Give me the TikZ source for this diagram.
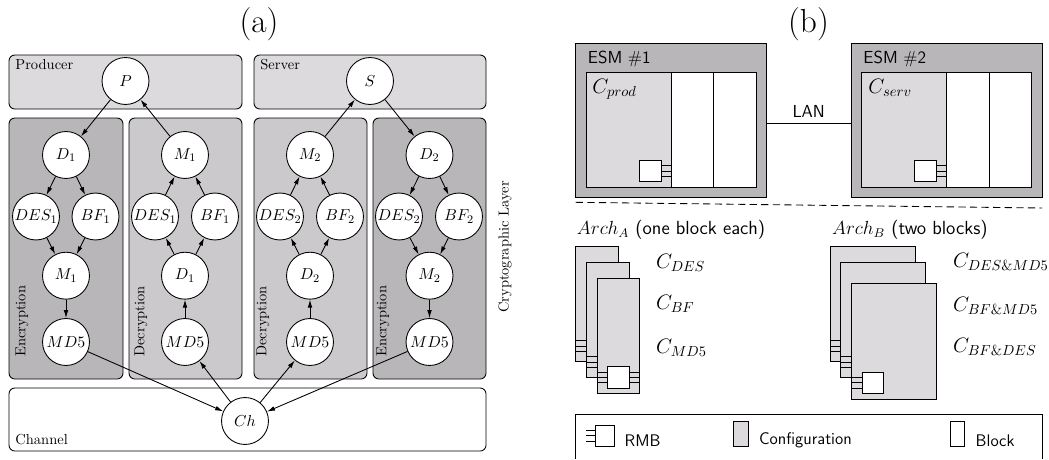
\documentclass[tikz,border=0pt]{standalone}
\usepackage{tikz}
\usetikzlibrary{arrows.meta}
\tikzset{
  state/.style={circle,draw,fill=white,minimum size=32.4pt,inner sep=0pt,font=\fontsize{10.95}{13}\selectfont},
  arw/.style={-{Latex[length=5.5pt,width=3.2pt]}},
  lightbox/.style={draw,fill=cfglight,rounded corners=4pt},
  midbox/.style={draw,fill=cfgmid,rounded corners=4pt},
  darkbox/.style={draw,fill=cfgdark,rounded corners=4pt},
  cfg/.style={draw,fill=cfglight},
  blk/.style={draw,fill=white},
  lbl/.style={inner sep=0pt,anchor=west},
  sflbl/.style={inner sep=0pt,anchor=west,font=\sffamily\fontsize{12}{14}\selectfont},
  leg/.style={inner sep=0pt,anchor=west,font=\sffamily\fontsize{11.6}{14}\selectfont},
  clbl/.style={inner sep=0pt,anchor=west,font=\Large},
  archlbl/.style={inner sep=0pt,anchor=west,font=\large,scale=1.09},
  caplbl/.style={font=\fontsize{23}{27}\selectfont}
}
\definecolor{cfglight}{RGB}{220,218,221}
\definecolor{cfgmid}{RGB}{203,201,204}
\definecolor{cfgdark}{RGB}{184,182,185}
\begin{document}
\begin{tikzpicture}[x=0.69pt,y=-0.69pt,line width=0.6pt]
    \useasboundingbox (0,0) rectangle (1049,459);
    % (a)
    \node[caplbl] (capa) at (259,24) {(a)};
    \draw[lightbox] (9,55) rectangle (242,109);
    \draw[lightbox] (254,55) rectangle (486,109);
    \draw[darkbox] (9,118) rectangle (123,379);
    \draw[midbox] (129,118) rectangle (242,379);
    \draw[midbox] (254,118) rectangle (367,379);
    \draw[darkbox] (373,118) rectangle (486,379);
    \draw[rounded corners=4pt] (9,388) rectangle (486,451);
    \node[lbl] (prod) at (15,65) {Producer};
    \node[lbl] (serv) at (260,65) {Server};
    \node[lbl] (chan) at (15,440) {Channel};
    \node[lbl,rotate=90] (encA) at (22,357) {Encryption};
    \node[lbl,rotate=90] (decA) at (141,357) {Decryption};
    \node[lbl,rotate=90] (decB) at (263,357) {Decryption};
    \node[lbl,rotate=90] (encB) at (383,357) {Encryption};
    \node[rotate=90,inner sep=0pt] (layer) at (505,247) {Cryptographic Layer};
    % states
    \node[state] (P) at (125.5,81) {$P$};
    \node[state] (S) at (370,81) {$S$};
    \node[state] (Ch) at (245,421) {$Ch$};
    \node[state] (dA) at (66,155) {$D_1$};
    \node[state] (desA) at (36,216.5) {$DES_1$};
    \node[state] (bfA) at (95.5,216.5) {$BF_1$};
    \node[state] (mA) at (66,275.7) {$M_1$};
    \node[state] (mdA) at (66,342) {$MD5$};
    \node[state] (mB) at (185,155) {$M_1$};
    \node[state] (desB) at (155,216.5) {$DES_1$};
    \node[state] (bfB) at (215,216.5) {$BF_1$};
    \node[state] (dB) at (185,275.7) {$D_1$};
    \node[state] (mdB) at (185,342) {$MD5$};
    \node[state] (mC) at (310,155) {$M_2$};
    \node[state] (desC) at (280,216.5) {$DES_2$};
    \node[state] (bfC) at (340,216.5) {$BF_2$};
    \node[state] (dC) at (310,275.7) {$D_2$};
    \node[state] (mdC) at (310,342) {$MD5$};
    \node[state] (dD) at (429.5,155) {$D_2$};
    \node[state] (desD) at (399,216.5) {$DES_2$};
    \node[state] (bfD) at (459,216.5) {$BF_2$};
    \node[state] (mD) at (429.5,275.7) {$M_2$};
    \node[state] (mdD) at (429.5,342) {$MD5$};
    \draw[arw] (P)--(dA);
    \draw[arw] (dA)--(desA);
    \draw[arw] (dA)--(bfA);
    \draw[arw] (desA)--(mA);
    \draw[arw] (bfA)--(mA);
    \draw[arw] (mA)--(mdA);
    \draw[arw] (mdA)--(Ch);
    \draw[arw] (Ch)--(mdB);
    \draw[arw] (mdB)--(dB);
    \draw[arw] (dB)--(desB);
    \draw[arw] (dB)--(bfB);
    \draw[arw] (desB)--(mB);
    \draw[arw] (bfB)--(mB);
    \draw[arw] (mB)--(P);
    \draw[arw] (Ch)--(mdC);
    \draw[arw] (mdC)--(dC);
    \draw[arw] (dC)--(desC);
    \draw[arw] (dC)--(bfC);
    \draw[arw] (desC)--(mC);
    \draw[arw] (bfC)--(mC);
    \draw[arw] (mC)--(S);
    \draw[arw] (S)--(dD);
    \draw[arw] (dD)--(desD);
    \draw[arw] (dD)--(bfD);
    \draw[arw] (desD)--(mD);
    \draw[arw] (bfD)--(mD);
    \draw[arw] (mD)--(mdD);
    \draw[arw] (mdD)--(Ch);
    % (b)
    \node[caplbl] (capb) at (808.5,24) {(b)};
    \draw[fill=cfgdark] (575.7,43.5) rectangle (766.7,197.7);
    \draw[fill=cfgdark] (851.3,43.5) rectangle (1042.3,197.7);
    \draw[fill=white] (586.3,72.3) rectangle (756.7,187);
    \draw[cfg] (586.3,72.3) rectangle (671.3,187);
    \draw (713.7,72.3)--(713.7,187);
    \draw[fill=white] (861.7,72.3) rectangle (1031.7,187);
    \draw[cfg] (861.7,72.3) rectangle (946.7,187);
    \draw (989.3,72.3)--(989.3,187);
    \draw[blk] (639.3,160.3) rectangle (661,181.7);
    \draw[blk] (914.3,160.3) rectangle (936,181.7);
    \foreach \y in {165.7,171,176.3}{
        \draw (661,\y)--(671.3,\y);
        \draw (936,\y)--(946.7,\y);
    }
    \node[sflbl] (esmA) at (587.5,59) {ESM $\#$1};
    \node[sflbl] (esmB) at (863,59) {ESM $\#$2};
    \node[clbl] (cprod) at (592,89) {$C_{prod}$};
    \node[clbl] (cserv) at (868,88) {$C_{serv}$};
    \coordinate (lanA) at (766.7,123.3);
    \coordinate (lanB) at (851.3,123.3);
    \draw (lanA)--(lanB);
    \node[sflbl,anchor=center] (lan) at (808.7,111.7) {LAN};
    \draw[dashed,dash pattern=on 5pt off 3pt] (575.7,202.3)--(1042,208);
    % Arch A
    \node[archlbl] (archA) at (576.5,229.5) {$Arch_A$ \sffamily (one block each)};
    \draw[cfg] (575.7,246.7) rectangle (618.7,361.7);
    \foreach \y in {340.7,346,351.3} \draw (575.7,\y)--(586.7,\y);
    \draw[cfg] (586.7,262.7) rectangle (629.3,377.3);
    \foreach \y in {356.7,362,367.3} \draw (586.7,\y)--(597.3,\y);
    \draw[cfg] (597.3,278.3) rectangle (639.7,393.3);
    \foreach \y in {372,377.3,382.7}{
        \draw (597.3,\y)--(607.7,\y);
        \draw (629.3,\y)--(639.7,\y);
    }
    \draw[blk] (607.7,366.7) rectangle (629.3,388.3);
    \node[clbl] (cdes) at (655.7,263) {$C_{DES}$};
    \node[clbl] (cbf) at (655.7,304) {$C_{BF}$};
    \node[clbl] (cmd) at (655.7,348) {$C_{MD5}$};
    % Arch B
    \node[archlbl] (archB) at (831.7,229.5) {$Arch_B$ \sffamily (two blocks)};
    \draw[cfg] (830,246.7) rectangle (915,361.7);
    \foreach \y in {340.7,346,351.3} \draw (830,\y)--(840.7,\y);
    \draw[cfg] (840.7,262.7) rectangle (925.7,377.3);
    \foreach \y in {356.7,362,367.3} \draw (840.7,\y)--(851.3,\y);
    \draw[cfg] (851.3,283.7) rectangle (936.3,399);
    \foreach \y in {377.3,382.7,388} \draw (851.3,\y)--(862,\y);
    \draw[blk] (862,372) rectangle (883.3,393.3);
    \node[clbl] (cdesmd) at (952.7,262) {$C_{DES\&MD5}$};
    \node[clbl] (cbfmd) at (952.7,306) {$C_{BF\&MD5}$};
    \node[clbl] (cbfdes) at (952.7,347) {$C_{BF\&DES}$};
    % legend
    \draw (575.7,459)--(575.7,414.3)--(1042.3,414.3)--(1042.3,459);
    \draw[blk] (595.3,425) rectangle (614.3,446);
    \foreach \y in {430.7,435.7,441} \draw (586,\y)--(595.3,\y);
    \node[leg] (rmb) at (624.3,440.7) {RMB};
    \draw[cfg] (733.3,421.3) rectangle (748.3,446);
    \node[leg] (conf) at (758.7,440.7) {Configuration};
    \draw[blk] (950,421.3) rectangle (964.3,446);
    \node[leg] (block) at (975.3,440.7) {Block};
\end{tikzpicture}
\end{document}
